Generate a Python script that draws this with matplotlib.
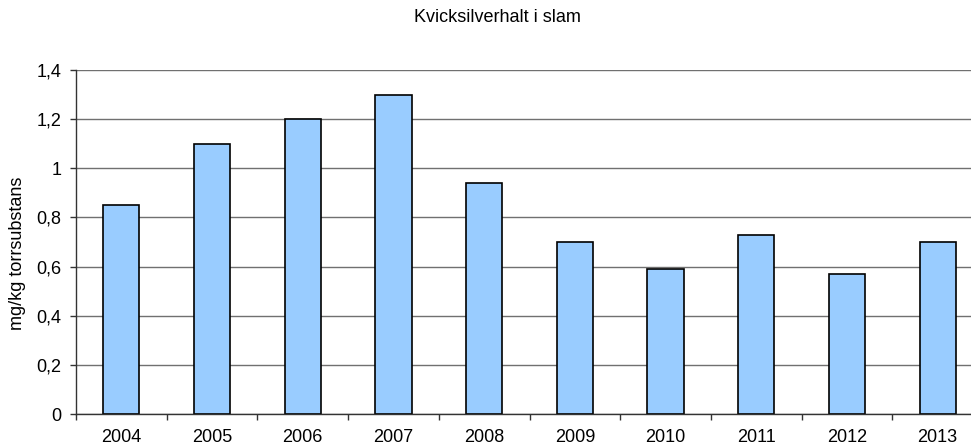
import numpy as np
import matplotlib.pyplot as plt
from matplotlib.ticker import FuncFormatter, FixedLocator

# Data
years = ['2004', '2005', '2006', '2007', '2008', '2009', '2010', '2011', '2012', '2013']
values = [0.85, 1.10, 1.20, 1.30, 0.94, 0.70, 0.59, 0.73, 0.57, 0.70]

# Plot Parameters
text_title = 'Kvicksilverhalt i slam'
text_ylabel = 'mg/kg torrsubstans'
fontsize = 13
color_bar = '#99ccff'
color_grid = '#707070'
figsize = (9.71, 4.48)

plt.rcParams['font.family'] = ['Liberation Sans', 'DejaVu Sans']

fig = plt.figure(figsize=figsize, dpi=100)
ax = fig.add_axes([76 / 971, 1 - 414 / 448, 907 / 971, 344 / 448])

x = np.arange(len(years))
ax.bar(x, values, width=0.4, color=color_bar, edgecolor='black', linewidth=1.2, zorder=3)

ax.set_xlim(-0.5, len(years) - 0.5)
ax.set_ylim(0, 1.4)
ax.set_yticks(np.arange(0, 1.41, 0.2))
ax.yaxis.set_major_formatter(FuncFormatter(lambda v, p: ('%g' % round(v, 1)).replace('.', ',')))
ax.yaxis.grid(True, color=color_grid, linewidth=1, zorder=0)

# x labels centred on bars, tick marks on category boundaries
ax.set_xticks(x)
ax.set_xticklabels(years)
ax.xaxis.set_minor_locator(FixedLocator(np.arange(-0.5, len(years), 1.0)))
ax.tick_params(axis='x', which='major', length=0, pad=10.5, labelsize=fontsize)
ax.tick_params(axis='x', which='minor', length=4.5, width=1, color='#333333', direction='out')
ax.tick_params(axis='y', length=4.5, width=1, color='#333333', direction='out', pad=6, labelsize=fontsize)

for s in ['top', 'right']:
    ax.spines[s].set_visible(False)
for s in ['left', 'bottom']:
    ax.spines[s].set_color('#333333')
    ax.spines[s].set_linewidth(1)
    ax.spines[s].set_zorder(4)

fig.text(497 / 971, 1 - 17 / 448, text_title, ha='center', va='center', fontsize=fontsize)
fig.text(18 / 971, 1 - 253 / 448, text_ylabel, ha='center', va='center', rotation=90, fontsize=fontsize)

fig.savefig('out.png', dpi=100)
